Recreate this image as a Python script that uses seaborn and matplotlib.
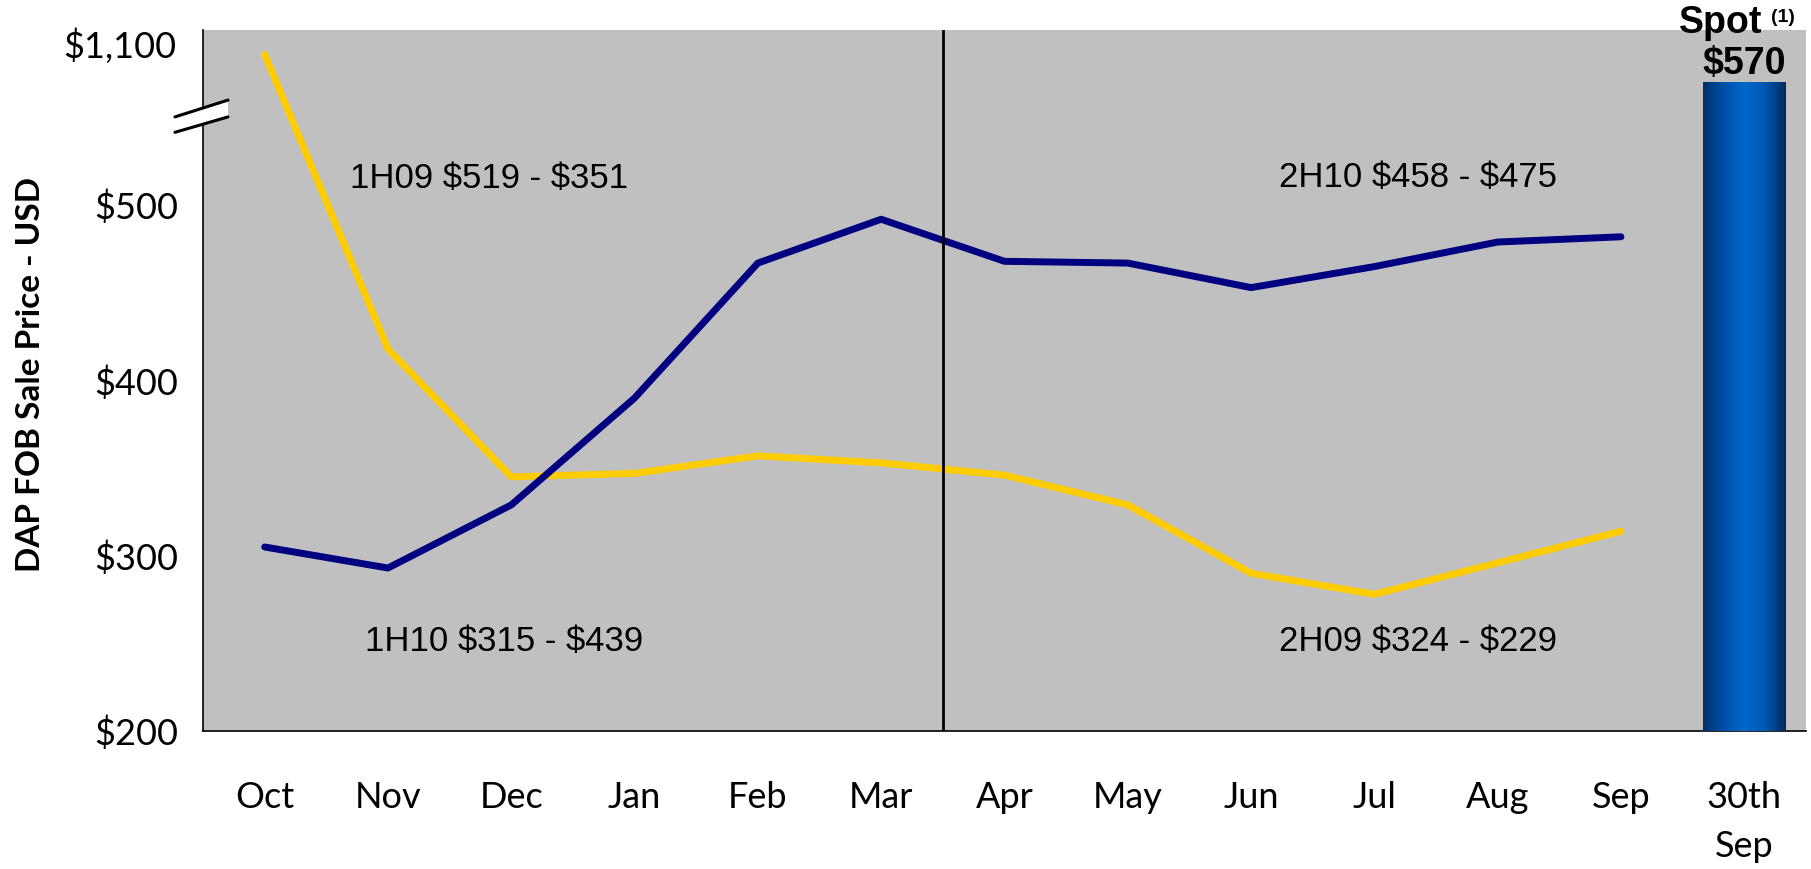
import numpy as np
import pandas as pd
import seaborn as sns
import matplotlib.pyplot as plt
from matplotlib.patches import Polygon
from matplotlib.colors import LinearSegmentedColormap

# ---------------------------------------------------------
# DATA (axis units; the Oct 1H09 point sits above the axis break)
# ---------------------------------------------------------
months = ['Oct', 'Nov', 'Dec', 'Jan', 'Feb', 'Mar',
          'Apr', 'May', 'Jun', 'Jul', 'Aug', 'Sep']
tick_labels = months + ['30th\nSep']
yellow_vals = [586, 418, 345, 347, 357, 353, 346, 329, 290, 278, 296, 314]
blue_vals = [305, 293, 329, 390, 467, 492, 468, 467, 453, 465, 479, 482]
spot_value = 570
y_ticks = [200, 300, 400, 500]
y_tick_labels = ['$200', '$300', '$400', '$500']

df = pd.DataFrame({'x': range(len(months)), 'yellow': yellow_vals, 'blue': blue_vals})

# ---------------------------------------------------------
# FIGURE
# ---------------------------------------------------------
sns.set_style('white')
plt.rcParams['font.family'] = ['Liberation Sans', 'DejaVu Sans']
plt.rcParams['text.color'] = 'black'
plt.rcParams['xtick.color'] = 'black'
plt.rcParams['ytick.color'] = 'black'
tick_font = ['Lato', 'DejaVu Sans']

fig = plt.figure(figsize=(18.11, 8.69), dpi=100)
ax = fig.add_axes([0.1121, 0.1588, 0.8851, 0.8067])
ax.set_facecolor('#C0C0C0')

# spot bar with a horizontal gradient
sns.barplot(x=[len(months)], y=[spot_value], native_scale=True, width=0.67,
            color='#0060C0', ax=ax, zorder=2)
bar = ax.patches[0]
bx, bw = bar.get_x(), bar.get_width()
btop = bar.get_y() + bar.get_height()
bar.set_facecolor('none')
bar.set_edgecolor('none')
cmap = LinearSegmentedColormap.from_list(
    'spot', ['#00306a', '#0050a8', '#0068cc', '#0058b0', '#002a5c'])
grad = np.linspace(0, 1, 256).reshape(1, -1)
ax.imshow(grad, cmap=cmap, aspect='auto', extent=[bx, bx + bw, 200, btop], zorder=3)

sns.lineplot(data=df, x='x', y='yellow', color='#FFCC00', linewidth=5, ax=ax,
             zorder=4, solid_capstyle='round')
sns.lineplot(data=df, x='x', y='blue', color='#000080', linewidth=5, ax=ax,
             zorder=5, solid_capstyle='round')

ax.axvline(5.5, color='black', linewidth=2, zorder=6)

ax.set_xlim(-0.5, len(tick_labels) - 0.5)
ax.set_ylim(200, 600)

# axes and ticks
for side in ['top', 'right']:
    ax.spines[side].set_visible(False)
for side in ['left', 'bottom']:
    ax.spines[side].set_color('black')
    ax.spines[side].set_linewidth(1.2)

ax.set_xticks(range(len(tick_labels)))
ax.set_xticklabels(tick_labels, family=tick_font, fontsize=26, linespacing=1.6,
                   color='black')
ax.set_xticks(np.arange(-0.5, len(tick_labels), 1), minor=True)
ax.tick_params(axis='x', which='major', length=0, pad=36)
ax.tick_params(axis='x', which='minor', length=10, width=1.2, color='#555555',
               direction='out')

ax.set_yticks(y_ticks + [600])
ax.set_yticklabels(y_tick_labels + [''], family=tick_font, fontsize=26, color='black')
ax.tick_params(axis='y', length=10, width=1.2, color='black', direction='out', pad=8)
ax.annotate('$1,100', xy=(0, 600), xycoords=('axes fraction', 'data'),
            xytext=(-19.5, -11.5), textcoords='offset points', color='black',
            ha='right', va='center', fontsize=26, family=tick_font)

ax.set_xlabel('')
ax.set_ylabel('')
fig.text(31 / 1811, 1 - 375 / 869, 'DAP FOB Sale Price - USD', rotation=90,
         ha='center', va='center', fontsize=24, fontweight='bold', family=tick_font,
         color='black')

# axis break marks
brk = Polygon([(-0.0175, 0.854), (0.0156, 0.876), (0.0156, 0.900), (-0.0175, 0.876)],
              closed=True, transform=ax.transAxes, facecolor='white',
              edgecolor='none', clip_on=False, zorder=10)
ax.add_patch(brk)
ax.plot([-0.0175, 0.0156], [0.876, 0.900], transform=ax.transAxes, color='black',
        linewidth=2.2, clip_on=False, zorder=11)
ax.plot([-0.0175, 0.0156], [0.854, 0.876], transform=ax.transAxes, color='black',
        linewidth=2.2, clip_on=False, zorder=11)

# period annotations
notes = [
    (0.69, 515, '1H09 \\$519 - \\$351'),
    (8.23, 516, '2H10 \\$458 - \\$475'),
    (0.81, 251, '1H10 \\$315 - \\$439'),
    (8.23, 251, '2H09 \\$324 - \\$229'),
]
for nx, ny, txt in notes:
    ax.text(nx, ny, txt, fontsize=25, ha='left', va='center', zorder=7, color='black')

# spot labels
ax.text(len(months), 580.8, '\\$570', fontsize=27, fontweight='bold',
        ha='center', va='center', zorder=8, clip_on=False, color='black')
ax.text(len(months) - 0.19, 603.9, 'Spot', fontsize=27, fontweight='bold',
        ha='center', va='center', zorder=8, clip_on=False, color='black')
ax.text(len(months) + 0.22, 607, '(1)', fontsize=14, fontweight='bold',
        ha='left', va='center', zorder=8, clip_on=False, color='black')

plt.savefig('out.png', dpi=100)
